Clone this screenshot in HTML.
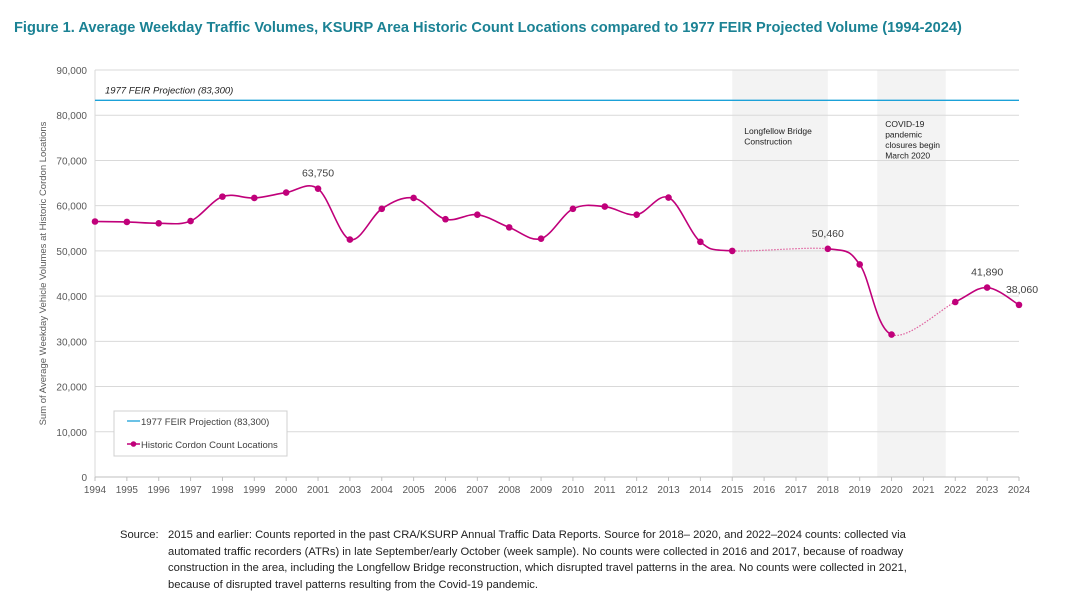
<!DOCTYPE html>
<html><head><meta charset="utf-8"><style>
body{margin:0;width:1083px;height:615px;background:#fff;font-family:"Liberation Sans",sans-serif;overflow:hidden}
#title{position:absolute;left:14px;top:20px;font-size:14.6px;font-weight:bold;color:#1b8294;white-space:nowrap}
#src{position:absolute;left:120px;top:527px;font-size:11.2px;line-height:16.5px;color:#222;width:950px;white-space:nowrap}
svg{position:absolute;left:0;top:0}
</style></head><body>
<div id="title">Figure 1. Average Weekday Traffic Volumes, KSURP Area Historic Count Locations compared to 1977 FEIR Projected Volume (1994-2024)</div>
<svg id="chart" width="1083" height="615"></svg>
<div id="src"><span style="display:inline-block;width:48px;vertical-align:top">Source:</span><span style="display:inline-block;vertical-align:top">2015 and earlier: Counts reported in the past CRA/KSURP Annual Traffic Data Reports. Source for 2018– 2020, and 2022–2024 counts: collected via<br>automated traffic recorders (ATRs) in late September/early October (week sample). No counts were collected in 2016 and 2017, because of roadway<br>construction in the area, including the Longfellow Bridge reconstruction, which disrupted travel patterns in the area. No counts were collected in 2021,<br>because of disrupted travel patterns resulting from the Covid-19 pandemic.</span></div>
<script>
const categories=["1994","1995","1996","1997","1998","1999","2000","2001","2003","2004","2005","2006","2007","2008","2009","2010","2011","2012","2013","2014","2015","2016","2017","2018","2019","2020","2021","2022","2023","2024"];
const values=[56500,56400,56100,56600,62000,61700,62900,63750,52500,59300,61700,57000,58000,55200,52700,59300,59800,58000,61800,52000,50000,null,null,50460,47000,31500,null,38700,41890,38060];
const yTicks=[0,10000,20000,30000,40000,50000,60000,70000,80000,90000];
const projection=83300;
const labeled=["2001","2018","2023","2024"];
const bands=[{from:20,to:23,label:["Longfellow Bridge","Construction"]},{from:24.55,to:26.7,label:["COVID-19","pandemic","closures begin","March 2020"]}];
const NS="http://www.w3.org/2000/svg";
const svg=document.getElementById('chart');
const X0=95,X1=1019,Y0=477,Y1=70,YMAX=90000;
const x=i=>X0+i*(X1-X0)/(categories.length-1);
const y=v=>Y0-(v/YMAX)*(Y0-Y1);
function el(t,a,txt){const e=document.createElementNS(NS,t);for(const k in a)e.setAttribute(k,a[k]);if(txt!=null)e.textContent=txt;svg.appendChild(e);return e;}
bands.forEach((b,bi)=>{
 const r=el('rect',{x:x(b.from),y:Y1,width:x(b.to)-x(b.from),height:Y0-Y1,fill:'#f3f3f3'});
 
 
});
yTicks.forEach(t=>{
 const g=el('line',{x1:X0,x2:X1,y1:y(t),y2:y(t),stroke:'#d9d9d9','stroke-width':1});
 
 
 const l=el('text',{x:X0-8,y:y(t)+4,'text-anchor':'end','font-size':10,fill:'#595959'},t.toLocaleString('en-US'));
 
 
});
const yl=el('line',{x1:X0,x2:X0,y1:Y1,y2:Y0,stroke:'#d9d9d9'});


const xl=el('line',{x1:X0,x2:X1,y1:Y0,y2:Y0,stroke:'#bfbfbf'});


categories.forEach((c,i)=>{
 const tk=el('line',{x1:x(i),x2:x(i),y1:Y0,y2:Y0+4,stroke:'#bfbfbf'});
 
 
 const t=el('text',{x:x(i),y:Y0+16,'text-anchor':'middle','font-size':10,fill:'#595959'},c);
 
 
});
bands.forEach((b,bi)=>{
 const t=el('text',{x:x(b.from)+12,y:bi==0?134:127,'font-size':8.5,fill:'#222'});
 
 
 b.label.forEach((s,k)=>{const ts=document.createElementNS(NS,'tspan');ts.setAttribute('x',x(b.from)+(bi==0?12:8));ts.setAttribute('dy',k?10.5:0);ts.textContent=s;t.appendChild(ts);});
});
const yt=el('text',{transform:'translate(46,'+(Y0+Y1)/2+') rotate(-90)','text-anchor':'middle','font-size':9.5,fill:'#595959'},'Sum of Average Weekday Vehicle Volumes at Historic Cordon Locations');


const pl=el('line',{x1:X0,x2:X1,y1:y(projection),y2:y(projection),stroke:'#1ba1d8','stroke-width':1.3});


const pt=el('text',{x:X0+10,y:y(projection)-7,'font-size':9.5,'font-style':'italic',fill:'#222'},'1977 FEIR Projection ('+projection.toLocaleString('en-US')+')');


const pts=[];values.forEach((v,i)=>{if(v!=null)pts.push([x(i),y(v),i]);});
function seg(p0,p1,p2,p3){const t=1/6;const c1=[p1[0]+(p2[0]-p0[0])*t,p1[1]+(p2[1]-p0[1])*t];const c2=[p2[0]-(p3[0]-p1[0])*t,p2[1]-(p3[1]-p1[1])*t];return `M${p1[0]},${p1[1]} C${c1[0]},${c1[1]} ${c2[0]},${c2[1]} ${p2[0]},${p2[1]}`;}
for(let k=0;k<pts.length-1;k++){
 const p0=pts[Math.max(0,k-1)],p1=pts[k],p2=pts[k+1],p3=pts[Math.min(pts.length-1,k+2)];
 const gap=p2[2]-p1[2]>1;
 const s=el('path',{d:seg(p0,p1,p2,p3),fill:'none',stroke:gap?'#e0609f':'#c0007a','stroke-width':gap?1.2:1.6,'stroke-dasharray':gap?'1.5 1.5':'none'});
 
 
}
pts.forEach(p=>{
 const c=el('circle',{cx:p[0],cy:p[1],r:3.3,fill:'#c0007a'});
 
 
 if(labeled.includes(categories[p[2]])){
  const t=el('text',{x:p[0]+(categories[p[2]]=='2024'?3:0),y:p[1]-12,'text-anchor':'middle','font-size':10.5,fill:'#404040'},values[p[2]].toLocaleString('en-US'));
  
  
 }
});
const lg=el('rect',{x:114,y:411,width:173,height:45,fill:'#fff',stroke:'#d0d0d0'});


const l1=el('line',{x1:127,x2:140,y1:421,y2:421,stroke:'#1ba1d8','stroke-width':1.3});


const t1=el('text',{x:141,y:425,'font-size':9.5,fill:'#404040'},'1977 FEIR Projection (83,300)');


const l2=el('line',{x1:127,x2:140,y1:444,y2:444,stroke:'#c0007a','stroke-width':1.5});


const c2=el('circle',{cx:133.5,cy:444,r:2.8,fill:'#c0007a'});


const t2=el('text',{x:141,y:448,'font-size':9.5,fill:'#404040'},'Historic Cordon Count Locations');


</script>
</body></html>
